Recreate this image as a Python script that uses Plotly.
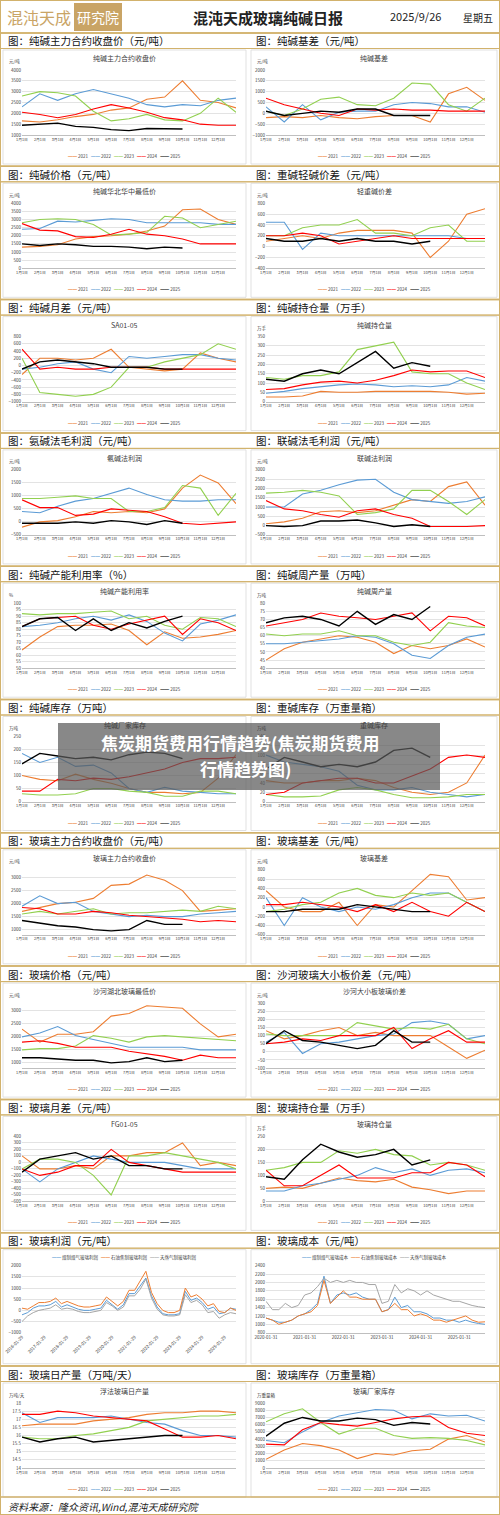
import plotly.graph_objects as go

W, H = 500, 1515
FONT = "Noto Sans CJK SC"
YEARS = ["2021", "2022", "2023", "2024", "2025"]
YCOL = {"2021": "#ED7D31", "2022": "#5B9BD5", "2023": "#92D050", "2024": "#FF0000", "2025": "#000000"}
MONTHS = ["%d月1日" % m for m in range(1, 13)]

# ---- data (roughly monthly) ----
sa_close = {
    "2021": [1650, 1600, 1700, 1850, 1950, 2150, 2250, 2650, 2750, 3500, 2600, 2500, 2250],
    "2022": [2300, 2900, 2600, 2900, 3100, 2900, 2700, 2400, 2300, 2400, 2350, 2600, 2700],
    "2023": [2800, 3000, 2950, 2800, 2100, 1650, 1750, 1950, 1700, 1650, 2000, 2700, 2050],
    "2024": [2050, 1950, 1800, 1950, 2200, 2400, 2250, 2050, 1800, 1700, 1500, 1450, 1450],
    "2025": [1450, 1500, 1550, 1400, 1350, 1250, 1200, 1300, 1300, 1280],
}
sa_basis = {
    "2021": [-200, -150, -200, -100, -200, -250, -150, -100, -100, -400, 900, 1200, 600],
    "2022": [300, -400, 400, -300, 50, 100, 100, 400, 500, 450, 300, 300, 50],
    "2023": [100, -100, 200, 650, 750, 400, 350, 700, 1400, 1350, 400, 100, 700],
    "2024": [700, 400, 200, 0, -100, 200, 150, 200, 150, 150, 100, 100, 100],
    "2025": [100, -100, 0, 100, 50, 200, 200, -100, -100, -100],
}
sa_price = {
    "2021": [1300, 1350, 1450, 1800, 1950, 2000, 2100, 2300, 2600, 3600, 3650, 3000, 2700],
    "2022": [2400, 2450, 2900, 2850, 2950, 3050, 3000, 2800, 2800, 2800, 2800, 2700, 2700],
    "2023": [2800, 3000, 3050, 3000, 2700, 2050, 2100, 2200, 3200, 3100, 2500, 2700, 2900],
    "2024": [2750, 2350, 2300, 1950, 1900, 2100, 2400, 2100, 2000, 1800, 1500, 1500, 1500],
    "2025": [1500, 1400, 1500, 1450, 1350, 1350, 1300, 1200, 1300, 1250],
}
sa_heavy_light = {
    "2021": [100, 150, 200, 150, 250, 300, 300, 300, 250, -200, 100, 600, 700],
    "2022": [450, 450, -50, 250, 200, 200, 200, 200, 200, 200, 200, 150, 150],
    "2023": [200, 200, 350, 400, 400, 500, 250, 250, 200, 350, 400, 100, 100],
    "2024": [200, 200, 250, 200, 50, 100, 150, 200, 150, 150, 150, 150, 150],
    "2025": [150, 100, 100, 150, 100, 150, 100, 100, 50, 100],
}
sa_spread = {
    "2021": [-250, 200, 200, 150, 200, 450, -50, -100, -150, -100, 350, 200, 100],
    "2022": [-100, -50, 50, 100, -100, -200, 250, 200, 250, 300, 300, 200, 150],
    "2023": [200, -750, -800, -850, -800, -600, -50, -50, 100, 200, 300, 600, 450],
    "2024": [450, -100, -50, -100, -100, -50, -50, -50, -100, -100, -100, -100, -100],
    "2025": [-100, 100, 150, 100, 50, -50, -50, -50, -100, -100],
}
sa_oi = {
    "2021": [25, 25, 30, 55, 50, 50, 55, 55, 55, 55, 50, 40, 45],
    "2022": [45, 55, 70, 80, 90, 95, 90, 80, 85, 80, 90, 130, 110],
    "2023": [130, 120, 140, 140, 160, 280, 300, 320, 160, 150, 150, 100, 65],
    "2024": [65, 70, 90, 105, 110, 100, 115, 140, 170, 160, 165, 165, 130],
    "2025": [120, 110, 150, 170, 150, 210, 270, 180, 210, 190],
}
sa_ammonia_profit = {
    "2021": [-200, 0, 50, 200, 400, 350, 400, 350, 500, 1300, 1800, 1500, 700],
    "2022": [400, 350, 600, 800, 900, 1100, 1300, 1050, 850, 800, 800, 850, 850],
    "2023": [900, 900, 950, 1000, 900, 900, 400, 400, 550, 1400, 1300, 250, 1100],
    "2024": [850, 550, 550, 250, 300, 500, 450, 400, 200, -50, -100, -50, 0],
    "2025": [-50, -50, -50, 0, -50, 50, 0, -100, 50, -50],
}
sa_joint_profit = {
    "2021": [100, 200, 400, 750, 800, 700, 800, 1100, 1400, 1300, 2100, 2350, 1100],
    "2022": [1000, 1000, 1700, 1900, 2200, 2450, 2500, 1800, 1400, 1300, 1200, 1300, 1550],
    "2023": [1750, 1800, 1900, 1800, 1600, 600, 700, 900, 1900, 1900, 1300, 600, 1400],
    "2024": [1350, 900, 800, 600, 450, 800, 900, 600, 400, -50, -50, -50, 0],
    "2025": [0, -50, 0, 250, 250, 300, 150, -50, 50, -50],
}
sa_util = {
    "2021": [64, 74, 82, 83, 83, 84, 79, 68, 78, 73, 74, 76, 79],
    "2022": [82, 83, 85, 88, 90, 87, 91, 86, 77, 71, 84, 87, 91],
    "2023": [92, 91, 92, 92, 93, 94, 88, 90, 83, 80, 89, 88, 82],
    "2024": [82, 88, 89, 90, 83, 80, 84, 87, 90, 76, 88, 85, 79],
    "2025": [82, 88, 89, 79, 88, 79, 85, 81, 86, 90],
}
sa_output = {
    "2021": [45, 52, 56, 58, 60, 59, 56, 49, 54, 52, 54, 58, 53],
    "2022": [55, 55, 56, 57, 58, 60, 59, 55, 48, 46, 54, 59, 61],
    "2023": [61, 60, 61, 61, 63, 60, 60, 56, 54, 56, 68, 66, 65],
    "2024": [66, 68, 70, 74, 72, 71, 70, 72, 74, 63, 72, 71, 66],
    "2025": [68, 71, 72, 70, 66, 75, 67, 73, 70, 78],
}
sa_stock = {
    "2021": [100, 85, 80, 105, 85, 70, 50, 35, 35, 30, 35, 90, 180],
    "2022": [185, 150, 170, 135, 140, 110, 50, 35, 55, 40, 35, 30, 30],
    "2023": [30, 25, 25, 30, 50, 50, 40, 35, 20, 20, 40, 40, 30],
    "2024": [40, 40, 85, 80, 90, 85, 95, 110, 125, 150, 165, 165, 170],
    "2025": [145, 185, 175, 165, 170, 160, 180, 190, 185, 165],
}
sa_heavy_stock = {
    "2021": [45, 40, 40, 45, 45, 50, 45, 30, 20, 15, 20, 40, 100],
    "2022": [100, 85, 80, 75, 65, 35, 25, 25, 30, 20, 15, 10, 15],
    "2023": [15, 10, 10, 12, 25, 30, 25, 15, 8, 8, 10, 15, 15],
    "2024": [15, 20, 40, 45, 50, 50, 40, 40, 55, 70, 95, 100, 95],
    "2025": [70, 95, 85, 75, 80, 75, 85, 110, 115, 95],
}
fg_close = {
    "2021": [1700, 1850, 2000, 2050, 2200, 2700, 2750, 3100, 2900, 2500, 1700, 1750, 1800],
    "2022": [1900, 2300, 2000, 2050, 1700, 1600, 1500, 1550, 1500, 1500, 1600, 1650, 1700],
    "2023": [1600, 1700, 1600, 1700, 1800, 1600, 1650, 1650, 1700, 1750, 1700, 1900, 1800],
    "2024": [1850, 1800, 1600, 1600, 1700, 1650, 1550, 1500, 1450, 1400, 1300, 1350, 1300],
    "2025": [1350, 1250, 1150, 1100, 1000, 950, 1000, 1350, 1200, 1200],
}
fg_basis = {
    "2021": [350, 0, -100, -100, 100, -400, 50, 0, 350, 700, 650, 150, 200],
    "2022": [200, -400, 200, 0, -100, 0, -50, 50, 200, 300, 300, 100, -100],
    "2023": [-100, -50, 50, 100, 300, 400, 250, 200, 300, 250, 300, 100, -100],
    "2024": [50, 50, 100, 50, 0, -100, 50, -100, 100, -100, -200, 100, -100],
    "2025": [-100, -100, -50, -50, -50, 50, 0, -50, -100, -100],
}
fg_price = {
    "2021": [2300, 1800, 2100, 2100, 2200, 2800, 2900, 3200, 3150, 3100, 2500, 2000, 2100],
    "2022": [2000, 2150, 2400, 2050, 1900, 1750, 1600, 1600, 1600, 1600, 1500, 1500, 1500],
    "2023": [1500, 1550, 1550, 1650, 2050, 1950, 1800, 2000, 2050, 2000, 1950, 1900, 1850],
    "2024": [1800, 1850, 1750, 1600, 1600, 1600, 1450, 1350, 1250, 1100, 1300, 1200, 1200],
    "2025": [1200, 1200, 1150, 1100, 1100, 1000, 1050, 1200, 1050, 1100],
}
fg_board = {
    "2021": [130, 80, 100, 130, 150, 100, 120, 100, 100, 100, 30, -40, 10],
    "2022": [60, 120, -10, 50, 60, 80, 100, 110, 180, 190, 170, 80, 100],
    "2023": [110, 100, 100, 100, 100, 180, 160, 140, 150, 140, 170, 80, 50],
    "2024": [50, 60, 80, 70, 100, 100, 100, 150, 20, 80, 130, 60, 60],
    "2025": [50, 130, 70, 60, 40, 20, 40, 130, 60, 60],
}
fg_spread = {
    "2021": [100, -100, -100, -50, -100, 100, 100, 150, 150, 300, -50, 0, -50],
    "2022": [-100, -300, -100, 0, 100, 50, 0, 0, 0, -50, -100, -100, -100],
    "2023": [-100, 50, 50, 0, -200, -500, 100, 100, 150, 100, 50, 0, -100],
    "2024": [-100, -200, -150, -50, -50, 200, 0, -50, -100, -150, -150, -150, -150],
    "2025": [-150, 50, 100, 150, 50, 100, -50, -50, -100, -100],
}
fg_oi = {
    "2021": [50, 55, 50, 70, 90, 80, 75, 85, 55, 45, 30, 40, 40],
    "2022": [40, 40, 60, 70, 85, 100, 130, 110, 125, 100, 120, 125, 110],
    "2023": [120, 130, 150, 150, 195, 185, 200, 180, 175, 140, 150, 140, 120],
    "2024": [120, 60, 60, 100, 140, 90, 90, 90, 110, 110, 150, 140, 95],
    "2025": [95, 85, 160, 220, 190, 170, 180, 200, 140, 160],
}
fg_daily = {
    "2021": [16.6, 16.7, 16.7, 16.7, 16.9, 17.0, 17.1, 17.3, 17.4, 17.4, 17.5, 17.5, 17.4],
    "2022": [17.4, 16.8, 17.1, 17.1, 17.1, 17.2, 17.0, 16.8, 16.7, 16.3, 16.0, 16.0, 15.9],
    "2023": [15.9, 15.8, 15.8, 16.0, 16.1, 16.3, 16.5, 16.9, 17.0, 17.1, 17.2, 17.2, 17.3],
    "2024": [17.3, 17.3, 17.5, 17.4, 17.2, 17.1, 17.0, 16.9, 16.4, 15.9, 15.9, 16.0, 15.8],
    "2025": [15.9, 15.6, 15.8, 15.9, 15.6, 15.7, 15.8, 15.9, 16.0, 16.0],
}
fg_stock = {
    "2021": [1200, 2500, 3400, 3100, 2500, 1300, 2000, 1800, 2400, 2600, 4000, 4500, 3600],
    "2022": [3800, 3500, 5000, 6300, 7200, 7700, 8100, 8000, 6800, 7500, 7200, 7300, 6500],
    "2023": [6400, 7500, 8200, 6300, 4700, 5500, 5500, 4500, 4100, 4200, 4100, 3800, 3200],
    "2024": [3300, 3200, 5300, 6300, 6000, 5800, 6300, 6800, 7100, 7200, 5600, 4800, 4500],
    "2025": [4400, 6200, 7000, 6500, 6500, 6900, 6700, 5900, 6300, 6100],
}

# glass profit, quarterly 2016Q1 - 2025Q3
profit_names = ["煤制煤气玻璃利润", "石油焦制玻璃利润", "天然气制玻璃利润"]
profit_coal = [-200, -100, 100, 200, 200, 250, 400, 150, 250, 150, 50, 0, 0, 50, 100, 450,
               250, 50, 250, 750, 750, 1100, 1450, 650, 150, -150, -200, -200, -150, 850, 450, 550,
               350, 50, 150, -150, -100, 100, 50]
profit_coke = [100, 50, 200, 350, 350, 400, 550, 300, 400, 300, 200, 150, 150, 200, 250, 600,
               400, 200, 400, 900, 900, 1300, 1750, 800, 300, 0, -100, -100, 0, 1000, 600, 700,
               500, 200, 300, -50, -100, 100, 0]
profit_gas = [-500, -250, -100, 0, 50, 100, 250, 50, 100, 50, -50, -100, -100, -50, 0, 350,
              200, 0, 150, 650, 650, 950, 1400, 550, 50, -200, -250, -250, -200, 700, 350, 450,
              250, -100, -50, -350, -200, -100, -150]
profit_ticks = ["%d-01-29" % y for y in range(2016, 2026)]

# glass cost, bimonthly 2020-01 - 2025-09
cost_names = ["煤制煤气玻璃成本", "石油焦制玻璃成本", "天然气制玻璃成本"]
cost_coal = [1150, 1100, 1050, 1050, 1100, 1200, 1250, 1350, 1500, 2150, 1500, 1700, 1750, 1700, 1750,
             1650, 1600, 1600, 1300, 1350, 1650, 1400, 1450, 1300, 1300, 1250, 1150, 1150, 1100, 1100,
             1050, 1100, 1050, 1020, 1000]
cost_coke = [1150, 1100, 1000, 1050, 1100, 1200, 1250, 1300, 1450, 2050, 1500, 1650, 1800, 1650, 1650,
             1600, 1600, 1600, 1300, 1350, 1500, 1350, 1350, 1200, 1250, 1200, 1100, 1100, 1050, 1100,
             1150, 1200, 1100, 1050, 1060]
cost_gas = [1550, 1350, 1350, 1500, 1400, 1450, 1700, 1750, 1900, 2100, 2000, 2050, 2000, 2050, 2000,
            2000, 1950, 1950, 1500, 1550, 1950, 1750, 1850, 1800, 1700, 1800, 1700, 1650, 1600, 1550,
            1550, 1500, 1450, 1420, 1400]
cost_ticks = ["%d-01-31" % y for y in range(2020, 2026)]

# (band title, chart title, unit, y range, dtick, data)
panels = [
    ("图：纯碱主力合约收盘价（元/吨）", "纯碱主力合约收盘价", "元/吨", [1000, 4000], 500, sa_close),
    ("图：纯碱基差（元/吨）", "纯碱基差", "元/吨", [-1000, 2000], 500, sa_basis),
    ("图：纯碱价格（元/吨）", "纯碱华北华中最低价", "元/吨", [0, 4000], 500, sa_price),
    ("图：重碱轻碱价差（元/吨）", "轻重碱价差", "元/吨", [-400, 800], 200, sa_heavy_light),
    ("图：纯碱月差（元/吨）", "SA01-05", "", [-1000, 800], 200, sa_spread),
    ("图：纯碱持仓量（万手）", "纯碱持仓量", "万手", [0, 350], 50, sa_oi),
    ("图：氨碱法毛利润（元/吨）", "氨碱法利润", "元/吨", [-500, 2000], 500, sa_ammonia_profit),
    ("图：联碱法毛利润（元/吨）", "联碱法利润", "元/吨", [-500, 3000], 500, sa_joint_profit),
    ("图：纯碱产能利用率（%）", "纯碱产能利用率", "%", [50, 100], 5, sa_util),
    ("图：纯碱周产量（万吨）", "纯碱周产量", "万吨", [40, 80], 5, sa_output),
    ("图：纯碱库存（万吨）", "纯碱厂家库存", "万吨", [0, 250], 50, sa_stock),
    ("图：重碱库存（万重量箱）", "重碱库存", "万吨", [0, 140], 20, sa_heavy_stock),
    ("图：玻璃主力合约收盘价（元/吨）", "玻璃主力合约收盘价", "元/吨", [800, 3300], 500, fg_close),
    ("图：玻璃基差（元/吨）", "玻璃基差", "元/吨", [-600, 800], 200, fg_basis),
    ("图：玻璃价格（元/吨）", "沙河湖北玻璃最低价", "元/吨", [800, 3300], 500, fg_price),
    ("图：沙河玻璃大小板价差（元/吨）", "沙河大小板玻璃价差", "元/吨", [-100, 300], 50, fg_board),
    ("图：玻璃月差（元/吨）", "FG01-05", "", [-600, 400], 100, fg_spread),
    ("图：玻璃持仓量（万手）", "玻璃持仓量", "万手", [0, 250], 50, fg_oi),
    ("图：玻璃利润（元/吨）", None, "", [-1000, 2000], 500, "profit"),
    ("图：玻璃成本（元/吨）", None, "", [800, 2400], 200, "cost"),
    ("图：玻璃日产量（万吨/天）", "浮法玻璃日产量", "万吨/天", [14, 18], 0.5, fg_daily),
    ("图：玻璃库存（万重量箱）", "玻璃厂家库存", "万重量箱", [0, 9000], 1000, fg_stock),
]

GOLD = "#D2B26C"
fig = go.Figure()
shapes, annos = [], []
layout = {}


def px(x):
    return x / W


def py(y):
    return 1 - y / H


def hline(y, x0=0, x1=W, color=GOLD, width=1.5):
    shapes.append(dict(type="line", xref="paper", yref="paper", x0=px(x0), x1=px(x1),
                       y0=py(y), y1=py(y), line=dict(color=color, width=width)))


def text(x, y, s, size=5, color="#404040", xanchor="center", **kw):
    annos.append(dict(xref="paper", yref="paper", x=px(x), y=py(y), text=s, showarrow=False,
                      xanchor=xanchor, yanchor="middle", font=dict(size=size, color=color, family=FONT), **kw))


def legend_html(names, colors):
    parts = ["<span style='color:%s'>━━</span> %s" % (c, n) for n, c in zip(names, colors)]
    return "   ".join(parts)


# header
text(5, 17, "混沌天成", size=16, color="#C9A465", xanchor="left")
shapes.append(dict(type="rect", xref="paper", yref="paper", x0=px(74), x1=px(122), y0=py(31), y1=py(3),
                   fillcolor="#C9A465", line=dict(width=0)))
text(98, 17, "研究院", size=14, color="white")
text(268, 17, "<b>混沌天成玻璃纯碱日报</b>", size=15, color="#222")
text(415, 16, "2025/9/26", size=11, color="#222")
text(478, 17, "星期五", size=10, color="#222")
shapes.append(dict(type="rect", xref="paper", yref="paper", x0=0, x1=1, y0=0, y1=1,
                   line=dict(color=GOLD, width=2)))

ROW0, ROWH = 33, 133.3
for i, (band, title, unit, yr, dt, data) in enumerate(panels):
    row, col = divmod(i, 2)
    B = ROW0 + row * ROWH
    P = B + 16
    x0 = 3 if col == 0 else 251
    x1 = 246 if col == 0 else 497
    hline(B)
    hline(B + 15.5, width=1)
    text(x0 + 3, B + 8, band, size=10.5, color="#111", xanchor="left")
    shapes.append(dict(type="rect", xref="paper", yref="paper", x0=px(x0), x1=px(x1), y0=py(P + 115),
                       y1=py(P + 1), line=dict(color="#D9D9D9", width=0.8), fillcolor="white", layer="below"))
    n = i + 1
    xa, ya = "xaxis%d" % n, "yaxis%d" % n
    pl = 22 if col == 0 else 266
    pr = 236 if col == 0 else 485
    if data == "profit" or data == "cost":
        top, bot = P + 17, P + 84
        if data == "profit":
            series = [profit_coal, profit_coke, profit_gas]
            names, ticks, step, ang = profit_names, profit_ticks, 4, -45
        else:
            series = [cost_coal, cost_coke, cost_gas]
            names, ticks, step, ang = cost_names, cost_ticks, 6, 0
        colors = ["#5B9BD5", "#ED7D31", "#A5A5A5"]
        for s, c in zip(series, colors):
            fig.add_trace(go.Scatter(x=list(range(len(s))), y=s, mode="lines", line=dict(color=c, width=1),
                                     xaxis="x%d" % n, yaxis="y%d" % n, showlegend=False, hoverinfo="skip"))
        xlen = len(series[0]) - 1
        layout[xa] = dict(domain=[px(pl), px(pr)], anchor="y%d" % n, range=[0, xlen],
                          tickvals=[k * step for k in range(len(ticks))], ticktext=ticks, tickangle=ang,
                          showgrid=False, zeroline=False, showline=data == "cost", linecolor="#BFBFBF",
                          automargin=False, tickfont=dict(size=4.5, color="#404040"))
        text((x0 + x1) / 2, P + 9, legend_html(names, colors), size=4.5)
    else:
        top, bot = P + 21, P + 86
        for y in YEARS:
            vals = data[y]
            fig.add_trace(go.Scatter(x=list(range(len(vals))), y=vals, mode="lines",
                                     line=dict(color=YCOL[y], width=1.1 if y != "2025" else 1.4),
                                     xaxis="x%d" % n, yaxis="y%d" % n, showlegend=False, hoverinfo="skip"))
        layout[xa] = dict(domain=[px(pl), px(pr)], anchor="y%d" % n, range=[0, 12],
                          tickvals=list(range(12)), ticktext=MONTHS, tickangle=0, showgrid=False,
                          zeroline=False, showline=True, linecolor="#BFBFBF", automargin=False,
                          tickfont=dict(size=3.8, color="#404040"))
        text((x0 + x1) / 2, P + 9, title, size=7, color="#404040")
        if unit:
            text(x0 + 4, P + 13, unit, size=4.5, xanchor="left")
        text((x0 + x1) / 2, P + 107, legend_html(YEARS, [YCOL[y] for y in YEARS]), size=4.5)
    layout[ya] = dict(domain=[py(bot), py(top)], anchor="x%d" % n, range=yr, dtick=dt,
                      showgrid=True, gridcolor="#E3E3E3", gridwidth=0.6, zeroline=False, automargin=False,
                      tickfont=dict(size=4.5, color="#404040"), ticklen=0)

# footer
hline(1497)
text(6, 1506, "<i>资料来源：隆众资讯,Wind,混沌天成研究院</i>", size=10, color="#222", xanchor="left")

# overlay banner
shapes.append(dict(type="rect", xref="paper", yref="paper", x0=px(58), x1=px(440), y0=py(790), y1=py(723),
                   fillcolor="rgba(90,90,90,0.72)", line=dict(width=0), layer="above"))
text(240, 742, "<b>焦炭期货费用行情趋势(焦炭期货费用</b>", size=17, color="white")
text(245, 768, "<b>行情趋势图)</b>", size=17, color="white")

fig.update_layout(width=W, height=H, margin=dict(l=0, r=0, t=0, b=0, autoexpand=False),
                  paper_bgcolor="white", plot_bgcolor="rgba(0,0,0,0)", shapes=shapes, annotations=annos,
                  font=dict(family=FONT), **layout)
fig.write_html("out.html", config={"displayModeBar": False},
               post_script="document.body.style.margin='0';document.body.style.overflow='hidden';")
